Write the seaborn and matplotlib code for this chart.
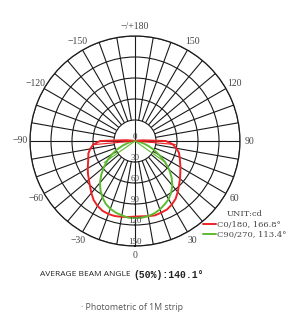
import matplotlib
matplotlib.use("Agg")
import matplotlib.pyplot as plt
from matplotlib.lines import Line2D
import numpy as np
import seaborn as sns

# C0/180 plane, candela per 5 degree step (-105 .. 105)
red_angles = np.arange(-105, 110, 5)
red_values = [0, 3, 13, 50, 60, 65, 69, 71, 74, 78, 82, 86, 91, 97, 103, 107, 110, 111, 111, 110, 109,
              108,
              108, 109, 110, 109, 108, 105, 101, 95, 89, 84, 79, 75, 71, 68, 65, 60, 54, 44, 11, 3, 0]

# C90/270 plane (-95 .. 95)
green_angles = np.arange(-95, 100, 5)
green_values = [0, 0, 1, 5, 10, 18, 28, 38, 48, 58, 68, 78, 86, 93, 99, 103, 106, 108, 110,
                110,
                110, 109, 107, 104, 100, 96, 90, 83, 74, 64, 52, 40, 30, 20, 12, 6, 2, 0, 0]

# thin strokes back to the origin seen in the source drawing
red_ray_angles = [-85, 0, 85]
red_ray_values = [58, 0, 58]
green_ray_angles = [-55, 0, 55]
green_ray_values = [54, 0, 54]

ring_values = [0, 30, 60, 90, 120, 150]
theta_ticks = np.arange(0, 360, 30)
theta_labels = ["0", "30", "60", "90", "120", "150", "\u2212/+180",
                "\u2212150", "\u2212120", "\u221290", "\u221260", "\u221230"]
spoke_angles = np.arange(0, 360, 10)

series_labels = ["C0/180, 166.8\u00b0", "C90/270, 113.4\u00b0"]
RED = "#ec2227"
GREEN = "#5dba30"

sns.set_theme(style="white")
plt.rcParams["font.family"] = ["Liberation Serif", "DejaVu Serif"]

fig = plt.figure(figsize=(2.88, 3.16), dpi=100)
ax = fig.add_axes([30 / 288, 70 / 316, 210 / 288, 210 / 316], projection="polar")
ax.set_theta_zero_location("S")
ax.set_theta_direction(1)
ax.set_ylim(0, 150)

# grid: rings + spokes (spokes start at first ring, main axes pass through centre)
ax.set_yticks(ring_values[1:])
ax.set_yticklabels([])
ax.yaxis.grid(True, color="#1a1a1a", lw=0.8)
ax.xaxis.grid(False)
ax.spines["polar"].set_color("#1a1a1a")
ax.spines["polar"].set_linewidth(0.9)
ax.vlines(np.deg2rad(spoke_angles), 30, 150, color="#1a1a1a", lw=0.8)
ax.vlines(np.deg2rad([0, 90, 180, 270]), 0, 30, color="#1a1a1a", lw=0.8)

ax.set_xticks(np.deg2rad(theta_ticks))
ax.set_xticklabels(theta_labels, fontsize=7, color="#444444")
ax.tick_params(axis="x", pad=-6)

for v in ring_values:
    ax.text(0, v, str(v), ha="center", va="bottom", fontsize=6.5, color="#444444")

sns.lineplot(x=np.deg2rad(red_angles), y=red_values, ax=ax, color=RED, lw=1.4, sort=False)
sns.lineplot(x=np.deg2rad(green_angles), y=green_values, ax=ax, color=GREEN, lw=1.4, sort=False)
sns.lineplot(x=np.deg2rad(red_ray_angles), y=red_ray_values, ax=ax, color=RED, lw=0.8, sort=False)
sns.lineplot(x=np.deg2rad(green_ray_angles), y=green_ray_values, ax=ax, color=GREEN, lw=0.8, sort=False)
ax.set_xlabel("")
ax.set_ylabel("")

handles = [Line2D([], [], color=RED, lw=1.4), Line2D([], [], color=GREEN, lw=1.4)]
leg = fig.legend(handles, series_labels, loc="upper left", bbox_to_anchor=(203 / 288, 1 - 210 / 316),
                 frameon=False, title="UNIT:cd", fontsize=6, title_fontsize=6,
                 handlelength=1.5, handletextpad=0.2, labelspacing=0.32,
                 borderpad=0, borderaxespad=0,
                 prop={"family": "DejaVu Serif", "size": 6})
for t in leg.get_texts():
    t.set_color("#444444")
leg.get_title().set_color("#444444")
leg.get_title().set_family("DejaVu Serif")

fig.text(133 / 288, 1 - 275 / 316, "AVERAGE BEAM ANGLE ", ha="right", va="center",
         fontsize=6, family="Open Sans", color="#222222")
fig.text(133 / 288, 1 - 275 / 316, "(50%):140.1\u00b0", ha="left", va="center",
         fontsize=7, family="Liberation Mono", weight="bold", color="#222222")
fig.text(132 / 288, 1 - 307 / 316, "\u00b7 Photometric of 1M strip", ha="center", va="center",
         fontsize=6.3, family="Open Sans", color="#555555")

fig.savefig("out.png", dpi=100, facecolor="white")
